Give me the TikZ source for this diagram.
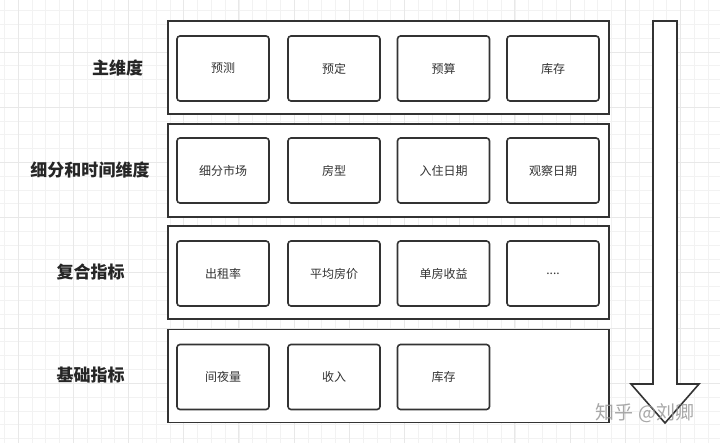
\documentclass[tikz,border=0pt]{standalone}
\usepackage{fontspec}
\setmainfont{Noto Sans CJK SC}
\begin{document}
\begin{tikzpicture}[x=1pt,y=-1pt,
  outerbox/.style={draw=black!80, line width=1.6pt, minimum width=441pt, minimum height=93pt, fill=white, inner sep=0pt},
  itembox/.style={draw=black!80, line width=1.6pt, rounded corners=3pt, minimum width=92pt, minimum height=65pt, fill=white, font=\fontsize{12}{14}\selectfont, text=black!80, inner sep=0pt},
  rowlabel/.style={font=\fontsize{17}{20}\selectfont\bfseries, text=black!85, inner sep=0pt},
  minorgrid/.style={draw=black!5, line width=0.6pt},
  majorgrid/.style={draw=black!9, line width=0.8pt},
  bigarrow/.style={draw=black!80, line width=1.6pt, fill=white, line join=miter},
  mark text/.style={font=\fontsize{19}{22}\selectfont, text=black!40, opacity=0.85, inner sep=0pt}
]
\useasboundingbox (0,0) rectangle (720,443);
\fill[white] (0,0) rectangle (720,443);
% grid
\foreach \i in {0,...,53} {
  \pgfmathsetmacro{\gx}{4.2+13.8*\i}
  \draw[minorgrid] (\gx,0) -- (\gx,443);
}
\foreach \i in {0,...,32} {
  \pgfmathsetmacro{\gy}{10.6+13.8*\i}
  \draw[minorgrid] (0,\gy) -- (720,\gy);
}
\foreach \i in {0,...,13} {
  \pgfmathsetmacro{\gx}{18+55.2*\i}
  \draw[majorgrid] (\gx,0) -- (\gx,443);
}
\foreach \i in {0,...,7} {
  \pgfmathsetmacro{\gy}{-3.2+55.2*\i}
  \draw[majorgrid] (0,\gy) -- (720,\gy);
}
% rows
\node[outerbox] (r1) at (388.5,67.5) {};
\node[outerbox] (r2) at (388.5,170.5) {};
\node[outerbox] (r3) at (388.5,272.7) {};
\node[outerbox] (r4) at (388.5,376) {};
% labels
\node[rowlabel] (l1) at (117.5,67.5) {主维度};
\node[rowlabel] (l2) at (90,169.5) {细分和时间维度};
\node[rowlabel] (l3) at (90.5,271.5) {复合指标};
\node[rowlabel] (l4) at (90.5,375) {基础指标};
% items
\node[itembox] (a1) at (223,68.5) {预测};
\node[itembox] (a2) at (334,68.5) {预定};
\node[itembox] (a3) at (443.5,68.5) {预算};
\node[itembox] (a4) at (553,68.5) {库存};
\node[itembox] (b1) at (223,170.5) {细分市场};
\node[itembox] (b2) at (334,170.5) {房型};
\node[itembox] (b3) at (443.5,170.5) {入住日期};
\node[itembox] (b4) at (553,170.5) {观察日期};
\node[itembox] (c1) at (223,273.5) {出租率};
\node[itembox] (c2) at (334,273.5) {平均房价};
\node[itembox] (c3) at (443.5,273.5) {单房收益};
\node[itembox] (c4) at (553,273.5) {....};
\node[itembox] (d1) at (223,377) {间夜量};
\node[itembox] (d2) at (334,377) {收入};
\node[itembox] (d3) at (443.5,377) {库存};
% big arrow
\draw[bigarrow] (653,21) -- (677,21) -- (677,384) -- (699,384) -- (665,423) -- (631,384) -- (653,384) -- cycle;
% watermark
\node[mark text] (wm) at (645,413) {知乎 @刘卿};
\end{tikzpicture}
\end{document}
